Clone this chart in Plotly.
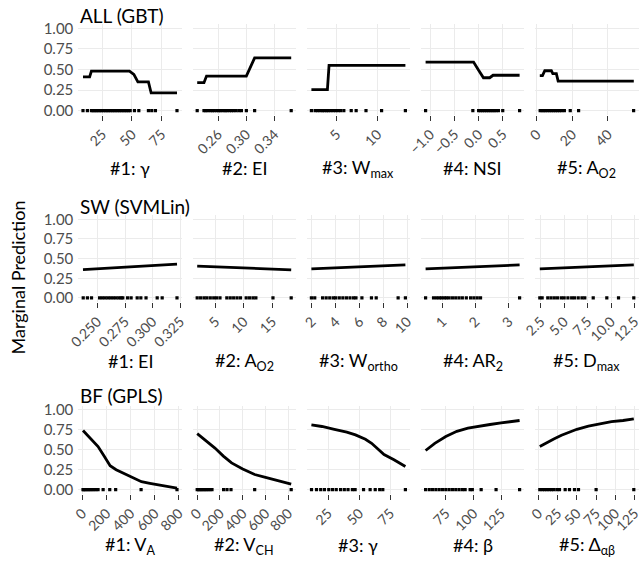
import plotly.graph_objects as go

# ---------------- data ----------------
row_titles = ["ALL (GBT)", "SW (SVMLin)", "BF (GPLS)"]

panel_labels = [
    ["#1: γ", "#2: EI", "#3: W<sub>max</sub>", "#4: NSI", "#5: A<sub>O2</sub>"],
    ["#1: EI", "#2: A<sub>O2</sub>", "#3: W<sub>ortho</sub>", "#4: AR<sub>2</sub>", "#5: D<sub>max</sub>"],
    ["#1: V<sub>A</sub>", "#2: V<sub>CH</sub>", "#3: γ", "#4: β", "#5: Δ<sub>αβ</sub>"],
]

tick_vals = [
    [[25, 50, 75], [0.26, 0.30, 0.34], [5, 10], [-1.0, -0.5, 0.0, 0.5], [0, 20, 40]],
    [[0.250, 0.275, 0.300, 0.325], [5, 10, 15], [2, 4, 6, 8, 10], [1, 2, 3], [2.5, 5.0, 7.5, 10.0, 12.5]],
    [[0, 200, 400, 600, 800], [0, 200, 400, 600, 800], [25, 50, 75], [75, 100, 125], [0, 25, 50, 75, 100, 125]],
]
tick_text = [
    [["25", "50", "75"], ["0.26", "0.30", "0.34"], ["5", "10"], ["−1.0", "−0.5", "0.0", "0.5"], ["0", "20", "40"]],
    [["0.250", "0.275", "0.300", "0.325"], ["5", "10", "15"], ["2", "4", "6", "8", "10"], ["1", "2", "3"],
     ["2.5", "5.0", "7.5", "10.0", "12.5"]],
    [["0", "200", "400", "600", "800"], ["0", "200", "400", "600", "800"], ["25", "50", "75"], ["75", "100", "125"],
     ["0", "25", "50", "75", "100", "125"]],
]

y_ticks = [0, 0.25, 0.5, 0.75, 1.0]
y_tick_text = ["0.00", "0.25", "0.50", "0.75", "1.00"]

# ALL (GBT)
all_gamma_x = [8.7, 14.3, 15.8, 47.9, 51.6, 55.0, 63.9, 66.2, 88.0]
all_gamma_y = [0.41, 0.41, 0.48, 0.48, 0.44, 0.35, 0.35, 0.215, 0.215]
all_gamma_rug = [8.7, 12.4, 15.8, 17.2, 18.6, 20.0, 21.5, 23.0, 24.3, 26.0, 27.5, 29.0, 30.4, 32.0, 33.5,
                 35.0, 36.5, 38.0, 39.5, 41.0, 42.5, 44.0, 45.5, 47.0, 48.5, 52.1, 55.8, 63.9, 66.7, 69.8, 88.0]

all_ei_x = [0.2304, 0.240, 0.2436, 0.300, 0.3117, 0.3635]
all_ei_y = [0.34, 0.34, 0.42, 0.42, 0.64, 0.64]
all_ei_rug = [0.2304, 0.240, 0.2425, 0.2455, 0.249, 0.252, 0.2545, 0.258, 0.261, 0.2635, 0.267, 0.270,
              0.2725, 0.276, 0.279, 0.282, 0.2855, 0.2895, 0.293, 0.300, 0.3117, 0.3635]

all_wmax_x = [1.95, 3.9, 4.1, 13.4]
all_wmax_y = [0.255, 0.255, 0.55, 0.55]
all_wmax_rug = [1.95, 2.4, 2.7, 3.0, 3.3, 3.5, 3.8, 4.0, 4.3, 4.6, 4.9, 5.2, 5.5, 5.9, 6.8, 7.4, 8.6, 10.5, 13.4]

all_nsi_x = [-1.10, -0.105, 0.0, 0.10, 0.23, 0.30, 0.85]
all_nsi_y = [0.59, 0.59, 0.49, 0.40, 0.40, 0.43, 0.43]
all_nsi_rug = [-1.10, -0.12, 0.0, 0.04, 0.08, 0.12, 0.16, 0.20, 0.24, 0.28, 0.32, 0.36, 0.41, 0.50, 0.85]

all_ao2_x = [1.7, 3.2, 4.5, 8.2, 9.0, 11.0, 12.0, 54.5]
all_ao2_y = [0.425, 0.425, 0.485, 0.485, 0.45, 0.45, 0.36, 0.36]
all_ao2_rug = [1.9, 3.0, 4.0, 5.0, 6.2, 7.3, 8.4, 9.5, 10.6, 11.7, 12.8, 14.0, 15.5, 18.8, 23.5, 54.4]

# SW (SVMLin)
sw_ei_x = [0.237, 0.322]
sw_ei_y = [0.36, 0.43]
sw_ei_rug = [0.2372, 0.2410, 0.2447, 0.2520, 0.2545, 0.2570, 0.2595, 0.2620, 0.2645, 0.2670, 0.2695,
             0.2715, 0.2730, 0.2773, 0.2805, 0.2860, 0.2893, 0.2940, 0.3041, 0.3086, 0.322]

sw_ao2_x = [1.8, 18.3]
sw_ao2_y = [0.405, 0.358]
sw_ao2_rug = [1.8, 2.4, 3.0, 3.5, 4.1, 4.7, 5.2, 5.8, 7.0, 7.6, 8.2, 8.8, 9.4, 10.4, 11.0, 11.6, 12.1, 15.1, 18.3]

sw_wortho_x = [1.96, 9.85]
sw_wortho_y = [0.37, 0.42]
sw_wortho_rug = [1.96, 2.24, 2.9, 3.2, 3.5, 3.8, 4.0, 4.3, 4.6, 4.9, 5.2, 5.5, 5.7, 6.2, 7.0, 7.4, 9.24, 9.85]

sw_ar2_x = [0.49, 3.33]
sw_ar2_y = [0.37, 0.42]
sw_ar2_rug = [0.49, 0.73, 0.82, 0.90, 0.97, 1.05, 1.12, 1.20, 1.30, 1.40, 1.50, 1.60, 1.72, 1.85,
              1.95, 2.05, 2.15, 3.33]

sw_dmax_x = [2.4, 12.43]
sw_dmax_y = [0.37, 0.42]
sw_dmax_rug = [2.4, 2.65, 3.25, 3.6, 3.95, 4.3, 4.7, 5.0, 5.4, 5.8, 6.1, 6.5, 6.9, 7.2, 8.1, 9.55, 10.8, 12.43]

# BF (GPLS)
bf_va_x = [5, 60, 130, 180, 230, 280, 350, 420, 490, 560, 640, 720, 785]
bf_va_y = [0.74, 0.65, 0.54, 0.42, 0.30, 0.25, 0.20, 0.15, 0.10, 0.08, 0.06, 0.04, 0.02]
bf_va_rug = [5, 12, 25, 38, 52, 65, 80, 95, 112, 130, 172, 227, 276, 487, 785]

bf_vch_x = [0, 80, 156, 230, 302, 400, 505, 600, 700, 826]
bf_vch_y = [0.70, 0.61, 0.52, 0.42, 0.335, 0.26, 0.19, 0.155, 0.12, 0.07]
bf_vch_rug = [0, 12, 25, 38, 52, 66, 80, 96, 112, 130, 232, 262, 297, 505, 826]

bf_gamma_x = [11.5, 20, 30, 40, 47, 55, 60, 65, 70, 78, 87.2]
bf_gamma_y = [0.81, 0.79, 0.755, 0.72, 0.685, 0.63, 0.58, 0.515, 0.44, 0.375, 0.29]
bf_gamma_rug = [11.6, 15.6, 19.0, 22.0, 25.5, 28.5, 31.5, 35.0, 38.0, 41.0, 44.5, 46.7, 53.5, 58.8,
                62.9, 66.5, 69.0, 87.2]

bf_beta_x = [56.7, 65, 75, 85, 95, 105, 115, 125, 141.8]
bf_beta_y = [0.49, 0.58, 0.665, 0.73, 0.77, 0.795, 0.815, 0.835, 0.865]
bf_beta_rug = [56.7, 60, 63, 66, 69, 72, 75, 78, 81, 84, 87, 90, 92.5, 97, 99, 107, 120.5, 141.8]

bf_dab_x = [1.8, 10, 20, 30, 40, 50, 65, 80, 95, 110, 124]
bf_dab_y = [0.54, 0.585, 0.635, 0.68, 0.72, 0.755, 0.795, 0.825, 0.85, 0.865, 0.885]
bf_dab_rug = [1.8, 5, 8, 11, 14, 17, 20, 24, 27.4, 34.8, 40.4, 46.9, 52.1, 75, 124]

panels = [
    [(all_gamma_x, all_gamma_y, all_gamma_rug), (all_ei_x, all_ei_y, all_ei_rug),
     (all_wmax_x, all_wmax_y, all_wmax_rug), (all_nsi_x, all_nsi_y, all_nsi_rug),
     (all_ao2_x, all_ao2_y, all_ao2_rug)],
    [(sw_ei_x, sw_ei_y, sw_ei_rug), (sw_ao2_x, sw_ao2_y, sw_ao2_rug),
     (sw_wortho_x, sw_wortho_y, sw_wortho_rug), (sw_ar2_x, sw_ar2_y, sw_ar2_rug),
     (sw_dmax_x, sw_dmax_y, sw_dmax_rug)],
    [(bf_va_x, bf_va_y, bf_va_rug), (bf_vch_x, bf_vch_y, bf_vch_rug),
     (bf_gamma_x, bf_gamma_y, bf_gamma_rug), (bf_beta_x, bf_beta_y, bf_beta_rug),
     (bf_dab_x, bf_dab_y, bf_dab_rug)],
]

# ---------------- layout ----------------
W, H = 642, 561
FONT = "Lato, 'Open Sans', sans-serif"
col_left = [78.3, 192.5, 306.7, 420.9, 535.1]
col_w = 103.4
row_tb = [(24.2, 114.8), (215.4, 301.9), (405.7, 493.7)]
title_y = [15.5, 206.5, 395.5]
label_y = [168, 361, 545]

fig = go.Figure()
layout = {}
annotations = []

for r in range(3):
    for c in range(5):
        k = r * 5 + c + 1
        xs, ys, rug = panels[r][c]
        xa = "x" if k == 1 else f"x{k}"
        ya = "y" if k == 1 else f"y{k}"
        fig.add_trace(go.Scatter(x=rug, y=[0] * len(rug), mode="markers",
                                 marker=dict(symbol="square", size=3.2, color="black", line=dict(width=0)),
                                 xaxis=xa, yaxis=ya, showlegend=False, hoverinfo="skip"))
        fig.add_trace(go.Scatter(x=xs, y=ys, mode="lines", line=dict(color="black", width=2.8),
                                 xaxis=xa, yaxis=ya, showlegend=False))
        lo = min(min(xs), min(rug))
        hi = max(max(xs), max(rug))
        pad = 0.05 * (hi - lo)
        top, bot = row_tb[r]
        layout["xaxis" if k == 1 else f"xaxis{k}"] = dict(
            domain=[col_left[c] / W, (col_left[c] + col_w) / W],
            anchor=ya, range=[lo - pad, hi + pad], automargin=False,
            tickmode="array", tickvals=tick_vals[r][c], ticktext=tick_text[r][c],
            tickangle=-45, ticks="outside", ticklen=5, tickwidth=1, tickcolor="#333333",
            tickfont=dict(family=FONT, size=14, color="#4D4D4D"),
            showgrid=True, gridcolor="#EBEBEB", gridwidth=1.2,
            zeroline=False, showline=False,
        )
        layout["yaxis" if k == 1 else f"yaxis{k}"] = dict(
            domain=[1 - bot / H, 1 - top / H],
            anchor=xa, range=[-0.05, 1.05], automargin=False,
            tickmode="array", tickvals=y_ticks, ticktext=y_tick_text,
            showticklabels=(c == 0), ticks="", ticklabelstandoff=4,
            tickfont=dict(family=FONT, size=15, color="#4D4D4D"),
            showgrid=True, gridcolor="#EBEBEB", gridwidth=1.2,
            zeroline=False, showline=False,
        )
        annotations.append(dict(text=panel_labels[r][c], x=(col_left[c] + col_w / 2) / W,
                                y=1 - label_y[r] / H, xref="paper", yref="paper",
                                xanchor="center", yanchor="middle", showarrow=False,
                                font=dict(family=FONT, size=18, color="black")))
    annotations.append(dict(text=row_titles[r], x=col_left[0] / W, y=1 - title_y[r] / H,
                            xref="paper", yref="paper", xanchor="left", yanchor="middle",
                            showarrow=False, font=dict(family=FONT, size=19, color="black")))

annotations.append(dict(text="Marginal Prediction", x=17.5 / W, y=1 - 278 / H, xref="paper", yref="paper",
                        xanchor="center", yanchor="middle", textangle=-90, showarrow=False,
                        font=dict(family=FONT, size=18, color="black")))

fig.update_layout(width=W, height=H, margin=dict(l=0, r=0, t=0, b=0),
                  paper_bgcolor="white", plot_bgcolor="white",
                  annotations=annotations, **layout)

fig.write_html("out.html", config={"displayModeBar": False},
               post_script="document.body.style.margin='0px';document.body.style.padding='0px';"
                           "document.body.style.overflow='hidden';")
